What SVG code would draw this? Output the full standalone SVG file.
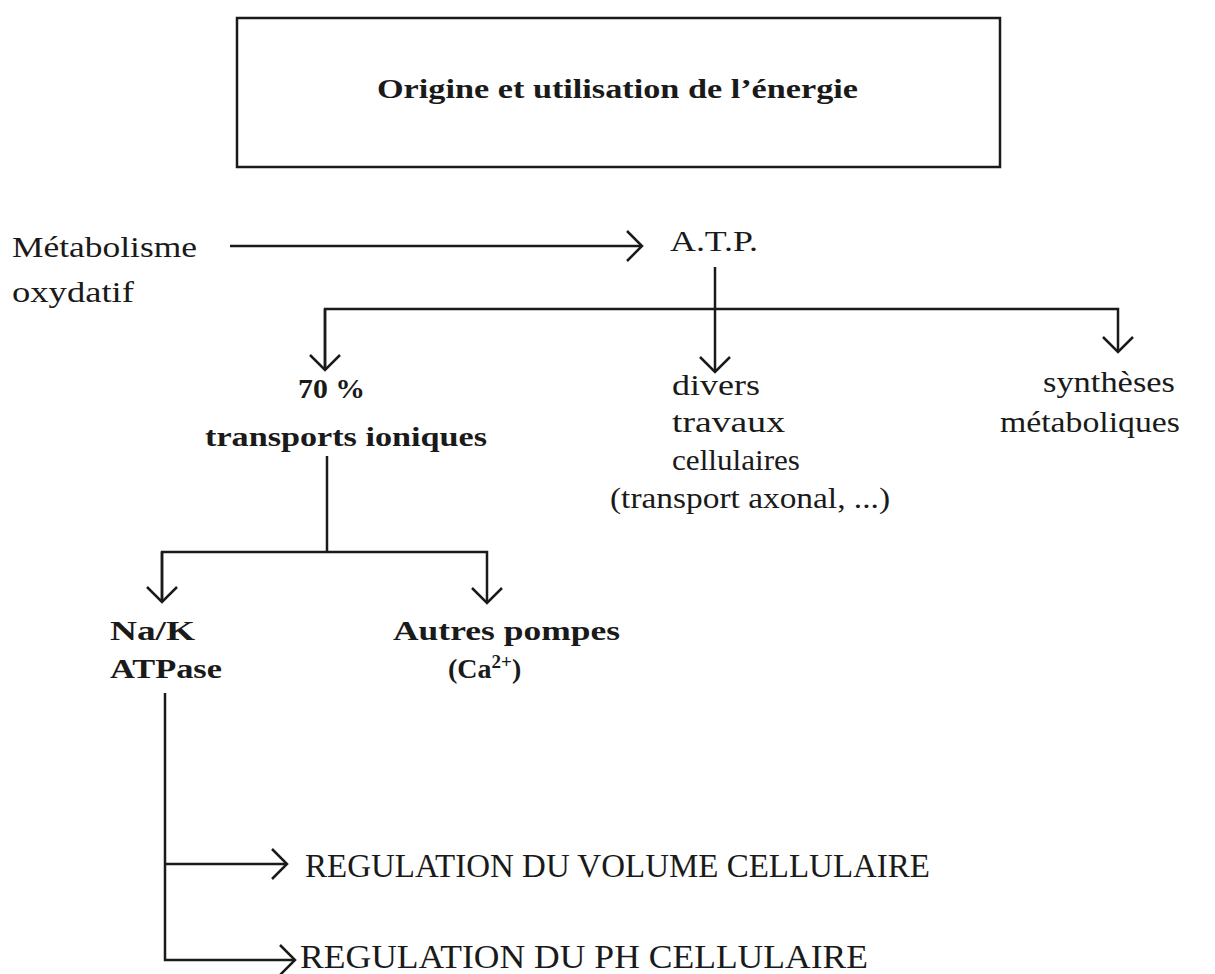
<svg xmlns="http://www.w3.org/2000/svg" width="1215" height="974" viewBox="0 0 1215 974">
<style>
text{font-family:"Liberation Serif","DejaVu Serif",serif;fill:#1a1a1a}
.t{font-size:29px}
.b{font-size:28px;font-weight:bold}
.cap{font-size:34px}
.title{font-size:27px;font-weight:bold}
.ln{stroke:#1a1a1a;stroke-width:2.5;fill:none}
</style>
<defs>
<marker id="ah" markerUnits="userSpaceOnUse" viewBox="0 0 18 32" refX="16" refY="16" markerWidth="18" markerHeight="32" orient="auto">
<path d="M1,1 L16,16 L1,31" stroke="#1a1a1a" stroke-width="2.5" fill="none"/>
</marker>
</defs>
<rect width="1215" height="974" fill="#ffffff"/>
<g id="title">
<rect x="237" y="18" width="763" height="149" fill="none" stroke="#1a1a1a" stroke-width="2.5"/>
<text class="title" x="377" y="98" textLength="481" lengthAdjust="spacingAndGlyphs">Origine et utilisation de l’énergie</text>
</g>
<g id="metabolisme">
<text class="t" x="12" y="257" textLength="185" lengthAdjust="spacingAndGlyphs">Métabolisme</text>
<text class="t" x="12" y="302" textLength="122" lengthAdjust="spacingAndGlyphs">oxydatif</text>
</g>
<g id="atp">
<text class="t" x="670" y="251" textLength="88" lengthAdjust="spacingAndGlyphs">A.T.P.</text>
</g>
<g id="transports">
<text class="b" x="298" y="398" textLength="67" lengthAdjust="spacingAndGlyphs">70 %</text>
<text class="b" x="205" y="446" textLength="282" lengthAdjust="spacingAndGlyphs">transports ioniques</text>
</g>
<g id="divers">
<text class="t" x="672" y="395" textLength="88" lengthAdjust="spacingAndGlyphs">divers</text>
<text class="t" x="672" y="432" textLength="113" lengthAdjust="spacingAndGlyphs">travaux</text>
<text class="t" x="672" y="470" textLength="128" lengthAdjust="spacingAndGlyphs">cellulaires</text>
<text class="t" x="610" y="508" textLength="280" lengthAdjust="spacingAndGlyphs">(transport axonal, ...)</text>
</g>
<g id="syntheses">
<text class="t" x="1043" y="392" textLength="132" lengthAdjust="spacingAndGlyphs">synthèses</text>
<text class="t" x="1000" y="432" textLength="180" lengthAdjust="spacingAndGlyphs">métaboliques</text>
</g>
<g id="nak">
<text class="b" x="110" y="640" textLength="85" lengthAdjust="spacingAndGlyphs">Na/K</text>
<text class="b" x="110" y="678" textLength="112" lengthAdjust="spacingAndGlyphs">ATPase</text>
</g>
<g id="autres">
<text class="b" x="393" y="640" textLength="227" lengthAdjust="spacingAndGlyphs">Autres pompes</text>
<text class="b" x="448" y="678">(Ca<tspan font-size="19" dy="-10">2+</tspan><tspan dy="10">)</tspan></text>
</g>
<g id="volume">
<text class="cap" x="305" y="877" textLength="625" lengthAdjust="spacingAndGlyphs">REGULATION DU VOLUME CELLULAIRE</text>
</g>
<g id="ph">
<text class="cap" x="300" y="968" textLength="568" lengthAdjust="spacingAndGlyphs">REGULATION DU PH CELLULAIRE</text>
</g>
<g id="connectors">
<path class="ln" d="M230,246 L642,246" marker-end="url(#ah)"/>
<path class="ln" d="M715,267 L715,372" marker-end="url(#ah)"/>
<path class="ln" d="M325,370 L325,309 L1118,309 L1118,352" marker-end="url(#ah)"/>
<path class="ln" d="M325,309 L325,370" marker-end="url(#ah)"/>
<path class="ln" d="M327,456 L327,552"/>
<path class="ln" d="M162,602 L162,552 L487,552 L487,603" marker-end="url(#ah)"/>
<path class="ln" d="M162,552 L162,602" marker-end="url(#ah)"/>
<path class="ln" d="M165,693 L165,960 L295,960" marker-end="url(#ah)"/>
<path class="ln" d="M165,864 L287,864" marker-end="url(#ah)"/>
</g>
</svg>
